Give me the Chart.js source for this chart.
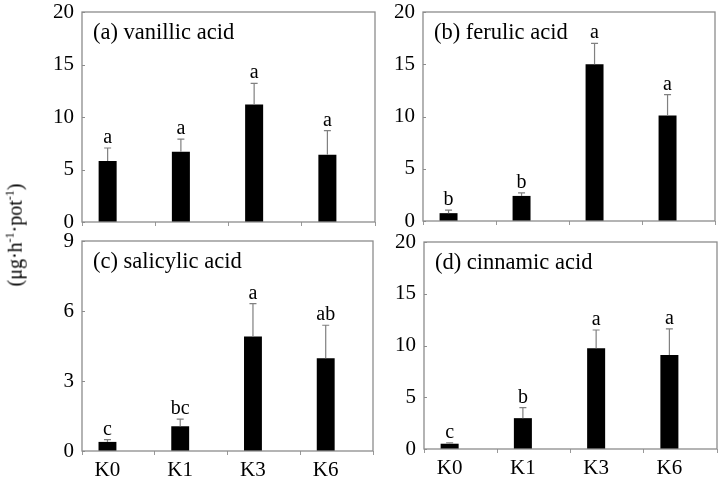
<!DOCTYPE html>
<html>
<head>
<meta charset="utf-8">
<script src="https://cdn.jsdelivr.net/npm/chart.js@4"></script>
<style>
  body { margin: 0; background: #fff; }
  #wrap { position: relative; width: 718px; height: 478px; overflow: hidden; }
  #wrap canvas { position: absolute; }
  #yTitle {
    position: absolute; left: 14px; top: 235px;
    transform: translate(-50%, -50%) rotate(-90deg);
    font-family: "Liberation Serif", serif; font-size: 20px; white-space: nowrap; color: #000;
    line-height: 1;
  }
  #yTitle sup { font-size: 12px; }
</style>
</head>
<body>
<div id="wrap">
  <canvas id="panelA" width="380" height="262" style="left:0;top:-10px"></canvas>
  <canvas id="panelB" width="338" height="262" style="left:380px;top:-10px"></canvas>
  <canvas id="panelC" width="380" height="258" style="left:0;top:220px"></canvas>
  <canvas id="panelD" width="338" height="258" style="left:380px;top:220px"></canvas>
  <div id="yTitle">(μg·h<sup>-1</sup>·pot<sup>-1</sup>)</div>
</div>
<script>
// datos
const categories = ['K0', 'K1', 'K3', 'K6'];

const vanillic = [5.8, 6.7, 11.2, 6.4];
const vanillicErr = [1.25, 1.2, 2.0, 2.3];
const vanillicLetters = ['a', 'a', 'a', 'a'];

const ferulic = [0.75, 2.4, 15.0, 10.1];
const ferulicErr = [0.3, 0.3, 2.0, 2.0];
const ferulicLetters = ['b', 'b', 'a', 'a'];

const salicylic = [0.39, 1.06, 4.91, 3.98];
const salicylicErr = [0.1, 0.31, 1.41, 1.41];
const salicylicLetters = ['c', 'bc', 'a', 'ab'];

const cinnamic = [0.51, 2.98, 9.73, 9.08];
const cinnamicErr = [0.09, 1.02, 1.77, 2.52];
const cinnamicLetters = ['c', 'b', 'a', 'a'];

const FONT = 'Liberation Serif';

// barras de error, letras, marco y título del panel
const panelPlugin = {
  id: 'panelDeco',
  afterDatasetsDraw(chart) {
    const ctx = chart.ctx;
    const ds = chart.data.datasets[0];
    const meta = chart.getDatasetMeta(0);
    const y = chart.scales.y;
    ctx.save();
    meta.data.forEach((bar, i) => {
      const top = y.getPixelForValue(ds.data[i] + ds.errors[i]);
      ctx.strokeStyle = '#808080';
      ctx.lineWidth = 1.2;
      ctx.beginPath();
      ctx.moveTo(bar.x, bar.y);
      ctx.lineTo(bar.x, top);
      ctx.moveTo(bar.x - 3.5, top);
      ctx.lineTo(bar.x + 3.5, top);
      ctx.stroke();
      ctx.fillStyle = '#000';
      ctx.font = '20px "' + FONT + '"';
      ctx.textAlign = 'center';
      ctx.textBaseline = 'alphabetic';
      ctx.fillText(ds.letters[i], bar.x, top - 5);
    });
    ctx.restore();
  },
  afterDraw(chart) {
    const ctx = chart.ctx;
    const a = chart.chartArea;
    const y = chart.scales.y;
    ctx.save();
    ctx.strokeStyle = '#8c8c8c';
    ctx.lineWidth = 1.3;
    ctx.strokeRect(a.left, a.top, a.right - a.left, a.bottom - a.top);
    // marcas cortas hacia dentro en el eje y
    ctx.lineWidth = 1;
    ctx.beginPath();
    y.ticks.forEach(t => {
      const py = Math.round(y.getPixelForValue(t.value)) + 0.5;
      ctx.moveTo(a.left, py);
      ctx.lineTo(a.left + 3, py);
    });
    ctx.stroke();
    ctx.fillStyle = '#000';
    ctx.font = '22.5px "' + FONT + '"';
    ctx.textAlign = 'left';
    ctx.textBaseline = 'alphabetic';
    ctx.fillText(chart.options.plugins.panelDeco.title, a.left + 11, a.top + 27);
    ctx.restore();
  }
};

function makePanel(id, title, values, errors, letters, yMax, yStep, box, showX) {
  return new Chart(document.getElementById(id), {
    type: 'bar',
    data: {
      labels: categories,
      datasets: [
        { data: values, errors: errors, letters: letters, backgroundColor: '#000',
          barPercentage: 0.82, categoryPercentage: 0.6 },
        { data: categories.map(() => null), barPercentage: 0.82, categoryPercentage: 0.6 }
      ]
    },
    options: {
      responsive: false,
      animation: false,
      layout: { padding: { top: box.top, right: box.right, left: 0, bottom: 0 } },
      plugins: {
        legend: { display: false },
        tooltip: { enabled: false },
        panelDeco: { title: title }
      },
      scales: {
        x: {
          grid: { drawOnChartArea: false, drawTicks: true, tickLength: 4, color: '#999' },
          border: { display: false },
          // en los paneles de arriba las etiquetas existen pero no se ven
          ticks: { labelOffset: -11, padding: 3, color: showX ? '#000' : 'rgba(0,0,0,0)',
                   font: { family: FONT, size: 21 } },
          afterFit: s => { s.height = box.xh; }
        },
        y: {
          min: 0, max: yMax,
          grid: { display: false, drawTicks: false, tickLength: 0 },
          border: { display: false },
          ticks: { stepSize: yStep, padding: 8, color: '#000', font: { family: FONT, size: 21 } },
          afterFit: s => { s.width = box.yw; }
        }
      }
    },
    plugins: [panelPlugin]
  });
}

makePanel('panelA', '(a) vanillic acid', vanillic, vanillicErr, vanillicLetters, 20, 5,
  { top: 22, right: 5, yw: 82, xh: 30 }, false);
makePanel('panelB', '(b) ferulic acid', ferulic, ferulicErr, ferulicLetters, 20, 5,
  { top: 22, right: 3, yw: 43, xh: 31 }, false);
makePanel('panelC', '(c) salicylic acid', salicylic, salicylicErr, salicylicLetters, 9, 3,
  { top: 21, right: 7, yw: 82, xh: 27 }, true);
makePanel('panelD', '(d) cinnamic acid', cinnamic, cinnamicErr, cinnamicLetters, 20, 5,
  { top: 22, right: 1, yw: 44, xh: 29 }, true);
</script>
</body>
</html>
